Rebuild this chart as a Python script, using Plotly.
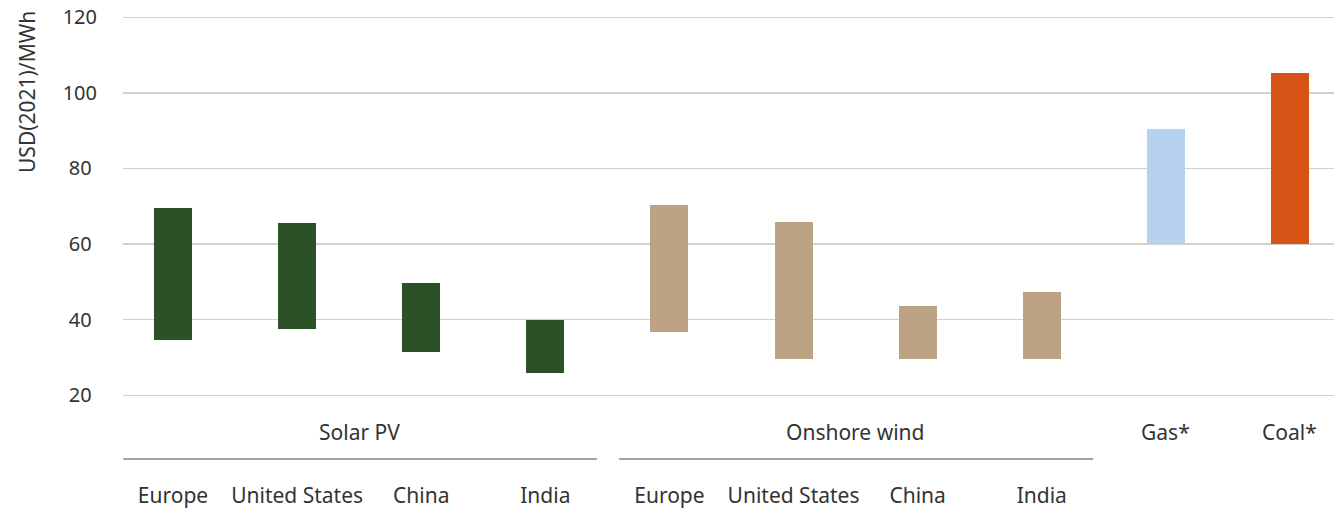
import plotly.graph_objects as go

# ---- data ----
countries = ["Europe", "United States", "China", "India"]
solar_low = [34.5, 37.5, 31.4, 26.0]
solar_high = [69.5, 65.5, 49.6, 40.0]
wind_low = [36.7, 29.5, 29.5, 29.5]
wind_high = [70.3, 65.8, 43.5, 47.2]
fossil_labels = ["Gas*", "Coal*"]
fossil_low = [60.0, 60.0]
fossil_high = [90.4, 105.2]
group_labels = ["Solar PV", "Onshore wind"]
y_ticks = [20, 40, 60, 80, 100, 120]
y_title = "USD(2021)/MWh"

# ---- styles ----
C_SOLAR = "#2C5129"
C_WIND = "#BCA384"
C_GAS = "#B7D2EE"
C_COAL = "#D55314"
FONT = "Noto Sans"
TXT = "#333333"

W, H = 1334, 509
ML, MR, MT, MB = 123, 0, 15, 110
plot_h = H - MT - MB
plot_w = W - ML - MR
page_bottom = H - MB
page_left = ML

xs_solar = list(range(0, 4))
xs_wind = list(range(4, 8))
xs_fossil = [8, 9]
bw = 0.306

fig = go.Figure()
fig.add_trace(go.Bar(x=xs_solar, y=[h - l for h, l in zip(solar_high, solar_low)],
                     base=solar_low, width=bw, marker=dict(color=C_SOLAR, line=dict(width=0)),
                     showlegend=False, hoverinfo="skip"))
fig.add_trace(go.Bar(x=xs_wind, y=[h - l for h, l in zip(wind_high, wind_low)],
                     base=wind_low, width=bw, marker=dict(color=C_WIND, line=dict(width=0)),
                     showlegend=False, hoverinfo="skip"))
fig.add_trace(go.Bar(x=xs_fossil, y=[h - l for h, l in zip(fossil_high, fossil_low)],
                     base=fossil_low, width=bw,
                     marker=dict(color=[C_GAS, C_COAL], line=dict(width=0)),
                     showlegend=False, hoverinfo="skip"))

def py(pix):
    # page pixel y -> paper y
    return (page_bottom - pix) / plot_h

def px(pix):
    return (pix - page_left) / plot_w

annotations = []
grp_x = [1.5, 5.5]
for gx, gl in zip(grp_x, group_labels):
    annotations.append(dict(x=gx, y=py(432), xref="x", yref="paper", text=gl,
                            showarrow=False, xanchor="center", yanchor="middle",
                            font=dict(family=FONT, size=21, color=TXT)))
for fx, fl in zip(xs_fossil, fossil_labels):
    annotations.append(dict(x=fx, y=py(432), xref="x", yref="paper", text=fl,
                            showarrow=False, xanchor="center", yanchor="middle",
                            font=dict(family=FONT, size=21, color=TXT)))
annotations.append(dict(x=px(27), y=py(9), xref="paper", yref="paper",
                        text=y_title, textangle=-90, showarrow=False,
                        xanchor="center", yanchor="top",
                        font=dict(family=FONT, size=21, color=TXT)))

shapes = []
for x0, x1 in [(-0.40, 3.415), (3.595, 7.413)]:
    shapes.append(dict(type="line", xref="x", yref="paper", x0=x0, x1=x1,
                       y0=py(459), y1=py(459), line=dict(color="#404040", width=1)))

tickvals = xs_solar + xs_wind
ticktext = countries + countries
ytext = [(str(v) if v >= 100 else str(v) + "\u2008") for v in y_ticks]

fig.update_layout(
    width=W, height=H,
    margin=dict(l=ML, r=MR, t=MT, b=MB, pad=0, autoexpand=False),
    paper_bgcolor="white", plot_bgcolor="white",
    bargap=0,
    annotations=annotations, shapes=shapes,
    font=dict(family=FONT, size=20, color=TXT),
    xaxis=dict(range=[-0.403, 9.355], tickvals=tickvals, ticktext=ticktext,
               showgrid=False, zeroline=False, showline=False, ticks="",
               ticklabelstandoff=82, automargin=False,
               tickfont=dict(family=FONT, size=21, color=TXT)),
    yaxis=dict(range=[19.0, 120.6], tickvals=y_ticks, ticktext=ytext, showgrid=True,
               gridcolor="#D3CFCB", gridwidth=1.3, zeroline=False, showline=False,
               ticks="", ticklabelstandoff=25, ticklabeloverflow="allow",
               automargin=False,
               tickfont=dict(family=FONT, size=20, color=TXT)),
)
fig.write_html("out.html",
               config={"displayModeBar": False, "staticPlot": True},
               post_script="document.body.style.margin='0';document.body.style.overflow='hidden';")
